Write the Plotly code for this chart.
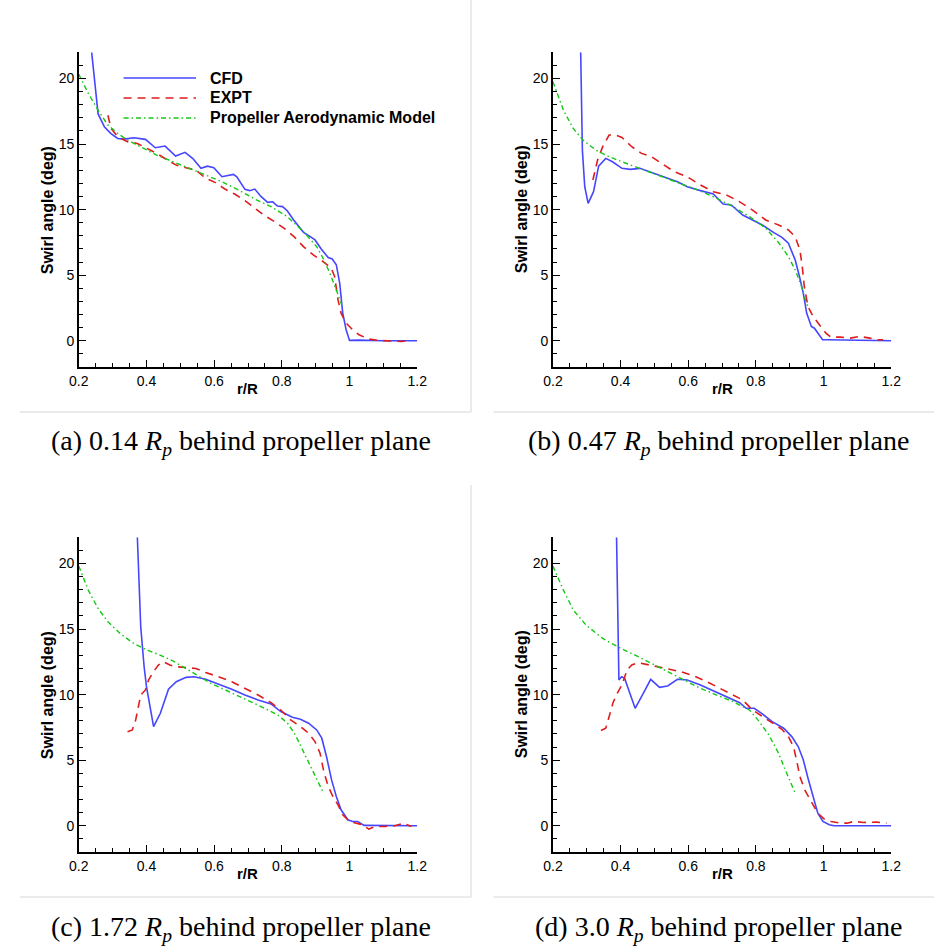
import plotly.graph_objects as go

W, H = 944, 947

# ---------------- data ----------------
# Panel (a): 0.14 Rp
a_cfd_x = [0.238, 0.257, 0.276, 0.295, 0.315, 0.334, 0.363, 0.397, 0.426, 0.455, 0.486, 0.514, 0.537, 0.561, 0.580, 0.599, 0.623, 0.633, 0.657, 0.667, 0.691, 0.705, 0.720, 0.739, 0.758, 0.773, 0.787, 0.802, 0.816, 0.835, 0.864, 0.884, 0.898, 0.917, 0.937, 0.949, 0.961, 0.971, 0.980, 0.990, 1.000, 1.028, 1.100, 1.200]
a_cfd_y = [22, 17.3, 16.3, 15.8, 15.43, 15.38, 15.48, 15.36, 14.72, 14.85, 14.09, 14.37, 13.9, 13.15, 13.32, 13.2, 12.51, 12.56, 12.69, 12.51, 11.55, 11.45, 11.57, 10.99, 10.56, 10.6, 10.28, 10.23, 9.92, 9.21, 8.27, 7.94, 7.69, 6.98, 6.35, 6.24, 5.79, 4.39, 2.11, 0.84, 0.03, 0.05, 0.0, 0.0]
a_exp_x = [0.286, 0.295, 0.315, 0.344, 0.373, 0.402, 0.430, 0.459, 0.488, 0.517, 0.546, 0.575, 0.604, 0.633, 0.662, 0.691, 0.720, 0.749, 0.778, 0.807, 0.836, 0.864, 0.893, 0.922, 0.946, 0.956, 0.966, 0.975, 0.990, 1.009, 1.028, 1.057, 1.086, 1.125, 1.154, 1.168]
a_exp_y = [17.2, 16.2, 15.56, 15.18, 15.05, 14.67, 14.29, 13.83, 13.4, 13.2, 13.02, 12.39, 12.06, 11.55, 11.17, 10.69, 10.1, 9.54, 9.09, 8.58, 7.94, 7.18, 6.55, 6.04, 5.53, 4.9, 3.12, 2.11, 1.35, 0.84, 0.46, 0.13, 0.03, 0.0, -0.05, 0.0]
a_mod_x = [0.2, 0.228, 0.257, 0.286, 0.315, 0.344, 0.382, 0.430, 0.479, 0.527, 0.575, 0.623, 0.672, 0.720, 0.768, 0.816, 0.864, 0.903, 0.922, 0.942, 0.961, 0.977]
a_mod_y = [20.33, 18.86, 17.59, 16.45, 15.81, 15.3, 14.8, 14.16, 13.65, 13.15, 12.64, 12.13, 11.5, 10.81, 10.23, 9.47, 8.32, 7.18, 6.29, 5.15, 3.88, 2.74]

# Panel (b): 0.47 Rp
b_cfd_x = [0.282, 0.287, 0.294, 0.304, 0.320, 0.335, 0.356, 0.376, 0.404, 0.429, 0.457, 0.501, 0.539, 0.568, 0.597, 0.636, 0.674, 0.703, 0.727, 0.761, 0.790, 0.819, 0.853, 0.877, 0.896, 0.916, 0.930, 0.940, 0.950, 0.964, 0.973, 0.983, 0.997, 1.012, 1.200]
b_cfd_y = [22, 14.54, 11.75, 10.48, 11.37, 13.32, 13.91, 13.65, 13.15, 13.07, 13.15, 12.77, 12.39, 12.13, 11.75, 11.45, 11.19, 10.43, 10.36, 9.59, 9.21, 8.83, 8.25, 7.89, 7.44, 6.17, 4.77, 3.63, 2.11, 1.09, 0.96, 0.58, 0.08, 0.08, 0.0]
b_exp_x = [0.318, 0.332, 0.347, 0.366, 0.385, 0.404, 0.433, 0.462, 0.491, 0.520, 0.559, 0.597, 0.636, 0.674, 0.713, 0.751, 0.790, 0.829, 0.867, 0.896, 0.916, 0.930, 0.937, 0.943, 0.954, 0.969, 0.988, 1.007, 1.022, 1.050, 1.079, 1.108, 1.137, 1.161, 1.176]
b_exp_y = [12.26, 13.78, 14.8, 15.69, 15.69, 15.5, 14.8, 14.29, 14.04, 13.53, 12.89, 12.51, 11.88, 11.37, 11.12, 10.61, 9.97, 9.21, 8.83, 8.45, 7.94, 6.93, 5.66, 4.14, 2.61, 1.85, 1.22, 0.58, 0.28, 0.28, 0.2, 0.33, 0.2, 0.08, 0.08]
b_mod_x = [0.2, 0.231, 0.260, 0.289, 0.327, 0.366, 0.404, 0.443, 0.491, 0.539, 0.588, 0.636, 0.684, 0.732, 0.781, 0.829, 0.867, 0.896, 0.916, 0.935, 0.949, 0.954]
b_mod_y = [19.75, 17.59, 16.19, 15.3, 14.54, 14.04, 13.65, 13.27, 12.84, 12.39, 11.88, 11.42, 10.86, 10.23, 9.47, 8.58, 7.49, 6.42, 5.41, 4.14, 2.87, 2.61]

# Panel (c): 1.72 Rp
c_cfd_x = [0.373, 0.383, 0.393, 0.400, 0.421, 0.441, 0.465, 0.488, 0.517, 0.541, 0.575, 0.613, 0.652, 0.691, 0.730, 0.768, 0.797, 0.831, 0.855, 0.879, 0.903, 0.918, 0.932, 0.947, 0.961, 0.975, 0.995, 1.009, 1.024, 1.043, 1.200]
c_cfd_y = [22, 15.18, 12.13, 10.61, 7.56, 8.58, 10.41, 10.99, 11.32, 11.37, 11.17, 10.81, 10.41, 9.97, 9.59, 9.29, 8.71, 8.27, 8.12, 7.82, 7.31, 6.68, 5.28, 3.5, 2.23, 1.22, 0.46, 0.33, 0.33, 0.03, 0.0]
c_exp_x = [0.344, 0.358, 0.368, 0.376, 0.383, 0.397, 0.406, 0.421, 0.435, 0.450, 0.469, 0.488, 0.517, 0.546, 0.575, 0.613, 0.652, 0.691, 0.730, 0.768, 0.797, 0.826, 0.855, 0.879, 0.898, 0.913, 0.924, 0.937, 0.951, 0.966, 0.980, 1.000, 1.019, 1.038, 1.057, 1.077, 1.106, 1.134, 1.159, 1.173, 1.183]
c_exp_y = [7.18, 7.31, 8.07, 9.09, 9.97, 10.36, 11.12, 11.75, 12.26, 12.51, 12.26, 12.13, 12.08, 12.0, 11.68, 11.37, 10.99, 10.48, 9.97, 9.39, 8.83, 8.07, 7.56, 7.06, 6.42, 5.53, 4.14, 3.0, 2.23, 1.6, 0.84, 0.33, 0.2, 0.08, -0.25, -0.05, -0.05, 0.0, 0.2, 0.08, -0.05]
c_mod_x = [0.2, 0.228, 0.257, 0.286, 0.324, 0.362, 0.401, 0.440, 0.479, 0.517, 0.556, 0.594, 0.633, 0.672, 0.710, 0.749, 0.788, 0.817, 0.840, 0.864, 0.884, 0.903, 0.921]
c_mod_y = [19.8, 17.97, 16.57, 15.56, 14.62, 13.91, 13.4, 13.02, 12.56, 12.0, 11.37, 10.81, 10.36, 9.9, 9.47, 8.96, 8.45, 7.82, 6.93, 5.66, 4.52, 3.5, 2.61]

# Panel (d): 3.0 Rp
d_cfd_x = [0.388, 0.395, 0.403, 0.412, 0.424, 0.443, 0.467, 0.489, 0.515, 0.539, 0.568, 0.597, 0.636, 0.674, 0.713, 0.752, 0.771, 0.795, 0.819, 0.848, 0.882, 0.906, 0.925, 0.940, 0.954, 0.969, 0.983, 0.998, 1.017, 1.031, 1.200]
d_cfd_y = [22, 11.12, 11.37, 11.24, 10.36, 8.96, 10.1, 11.17, 10.56, 10.66, 11.17, 11.12, 10.74, 10.3, 9.85, 9.39, 8.96, 8.96, 8.53, 7.94, 7.44, 6.8, 6.04, 5.03, 3.63, 2.23, 0.96, 0.33, 0.08, 0.0, 0.0]
d_exp_x = [0.342, 0.356, 0.366, 0.377, 0.390, 0.404, 0.419, 0.433, 0.453, 0.472, 0.501, 0.539, 0.578, 0.617, 0.655, 0.694, 0.732, 0.761, 0.790, 0.819, 0.848, 0.877, 0.896, 0.911, 0.920, 0.930, 0.944, 0.964, 0.983, 1.002, 1.022, 1.051, 1.070, 1.089, 1.118, 1.157, 1.186]
d_exp_y = [7.26, 7.44, 8.32, 9.34, 10.1, 10.74, 11.88, 12.26, 12.44, 12.34, 12.18, 12.0, 11.75, 11.42, 10.99, 10.48, 9.97, 9.59, 8.83, 8.32, 7.87, 7.36, 6.8, 6.04, 5.03, 3.76, 2.74, 1.85, 0.96, 0.51, 0.33, 0.2, 0.2, 0.33, 0.25, 0.28, 0.2]
d_mod_x = [0.2, 0.231, 0.260, 0.298, 0.347, 0.400, 0.443, 0.491, 0.539, 0.588, 0.636, 0.684, 0.732, 0.781, 0.810, 0.838, 0.867, 0.891, 0.911, 0.916]
d_mod_y = [19.8, 17.97, 16.45, 15.3, 14.29, 13.53, 13.02, 12.39, 11.75, 11.12, 10.48, 9.97, 9.47, 8.83, 7.94, 6.93, 5.53, 4.01, 2.74, 2.49]

series_names = ["CFD", "EXPT", "Propeller Aerodynamic Model"]
captions = [
    "(a) 0.14 <i>R</i><sub><i>p</i></sub> behind propeller plane",
    "(b) 0.47 <i>R</i><sub><i>p</i></sub> behind propeller plane",
    "(c) 1.72 <i>R</i><sub><i>p</i></sub> behind propeller plane",
    "(d) 3.0 <i>R</i><sub><i>p</i></sub> behind propeller plane",
]
x_title = "r/R"
y_title = "Swirl angle (deg)"
x_range = [0.2, 1.2]
y_range = [-2, 22]
y_tickvals = [0, 5, 10, 15, 20]

# ---------------- styling ----------------
BLUE = "rgb(70,70,255)"
RED = "rgb(222,30,30)"
GREEN = "rgb(20,200,20)"
styles = [
    dict(color=BLUE, width=1.6, dash="solid"),
    dict(color=RED, width=1.6, dash="8px,6px"),
    dict(color=GREEN, width=1.4, dash="5px,3px,1.5px,3px"),
]
SANS = "Liberation Sans, Arial, Helvetica, sans-serif"
SERIF = "Liberation Serif, Times New Roman, serif"

def px_x(p):
    return p / W

def px_y(p):
    return 1 - p / H

# panel boxes in pixels: (x0, x1, ytop, ybottom)
panels_px = [
    (70.3, 416.0, 52.3, 367.0),
    (554.7, 900.3, 52.3, 367.0),
    (70.3, 416.0, 537.3, 852.0),
    (554.7, 900.3, 537.3, 852.0),
]

panel_data = [
    [(a_cfd_x, a_cfd_y), (a_exp_x, a_exp_y), (a_mod_x, a_mod_y)],
    [(b_cfd_x, b_cfd_y), (b_exp_x, b_exp_y), (b_mod_x, b_mod_y)],
    [(c_cfd_x, c_cfd_y), (c_exp_x, c_exp_y), (c_mod_x, c_mod_y)],
    [(d_cfd_x, d_cfd_y), (d_exp_x, d_exp_y), (d_mod_x, d_mod_y)],
]

fig = go.Figure()
layout = dict(
    width=W, height=H, autosize=False,
    margin=dict(l=0, r=0, t=0, b=0),
    paper_bgcolor="white", plot_bgcolor="white",
    showlegend=False,
    font=dict(family=SANS, color="black", size=14),
)

annotations = []
shapes = []

for i, (x0, x1, yt, yb) in enumerate(panels_px):
    n = "" if i == 0 else str(i + 1)
    xa, ya = "x" + n, "y" + n
    for k, (xs, ys) in enumerate(panel_data[i]):
        st = styles[k]
        fig.add_trace(go.Scatter(
            x=xs, y=ys, mode="lines", name=series_names[k],
            line=dict(color=st["color"], width=st["width"], dash=st["dash"]),
            xaxis=xa, yaxis=ya, hoverinfo="skip",
        ))
    common = dict(
        showline=True, linecolor="black", linewidth=1.6,
        ticks="inside", ticklen=7, tickwidth=1.4, tickcolor="black",
        showgrid=False, zeroline=False,
        tickfont=dict(family=SANS, size=14, color="black"),
        fixedrange=True,
    )
    layout["xaxis" + n] = dict(
        common, domain=[px_x(x0), px_x(x1)], range=x_range,
        anchor=ya, tick0=0.2, dtick=0.2,
        minor=dict(ticks="inside", ticklen=4, tickwidth=1, tickcolor="black", dtick=0.05, tick0=0.2, showgrid=False),
    )
    layout["yaxis" + n] = dict(
        common, domain=[px_y(yb), px_y(yt)], range=y_range,
        anchor=xa, tickvals=y_tickvals,
        minor=dict(ticks="inside", ticklen=4, tickwidth=1, tickcolor="black", dtick=1, tick0=0, showgrid=False),
    )
    # axis titles
    annotations.append(dict(
        text="<b>%s</b>" % x_title, xref="paper", yref="paper",
        x=px_x((x0 + x1) / 2), y=px_y(yb + 21), showarrow=False,
        font=dict(family=SANS, size=15, color="black"), xanchor="center", yanchor="middle",
    ))
    annotations.append(dict(
        text="<b>%s</b>" % y_title, xref="paper", yref="paper",
        x=px_x(x0 - 32), y=px_y((yt + yb) / 2), showarrow=False, textangle=-90,
        font=dict(family=SANS, size=16, color="black"), xanchor="center", yanchor="middle",
    ))

# captions
cap_pos = [(236, 443), (724, 443), (236, 928), (724, 928)]
for cap, (cx, cy) in zip(captions, cap_pos):
    annotations.append(dict(
        text=cap, xref="paper", yref="paper", x=px_x(cx), y=px_y(cy),
        showarrow=False, xanchor="center", yanchor="middle",
        font=dict(family=SERIF, size=28, color="black"),
    ))

# legend (custom, inside panel a)
leg_rows = [78, 98, 118]
for k, ry in enumerate(leg_rows):
    st = styles[k]
    shapes.append(dict(
        type="line", xref="paper", yref="paper",
        x0=px_x(116), x1=px_x(190), y0=px_y(ry), y1=px_y(ry),
        line=dict(color=st["color"], width=st["width"], dash=st["dash"]),
    ))
    annotations.append(dict(
        text="<b>%s</b>" % series_names[k], xref="paper", yref="paper",
        x=px_x(202), y=px_y(ry), showarrow=False, xanchor="left", yanchor="middle",
        font=dict(family=SANS, size=16, color="black"),
    ))

# light frame lines around sub-figures
FRAME = "rgb(215,215,215)"
for (fx0, fx1, fy) in [(10, 471, 412), (494, 944, 412), (10, 471, 897), (494, 944, 897)]:
    shapes.append(dict(type="line", xref="paper", yref="paper",
                       x0=px_x(fx0), x1=px_x(fx1), y0=px_y(fy), y1=px_y(fy),
                       line=dict(color=FRAME, width=1)))
for (vy0, vy1) in [(0, 412), (485, 897)]:
    shapes.append(dict(type="line", xref="paper", yref="paper",
                       x0=px_x(471), x1=px_x(471), y0=px_y(vy0), y1=px_y(vy1),
                       line=dict(color=FRAME, width=1)))

layout["annotations"] = annotations
layout["shapes"] = shapes
fig.update_layout(**layout)
fig.write_html("out.html")
